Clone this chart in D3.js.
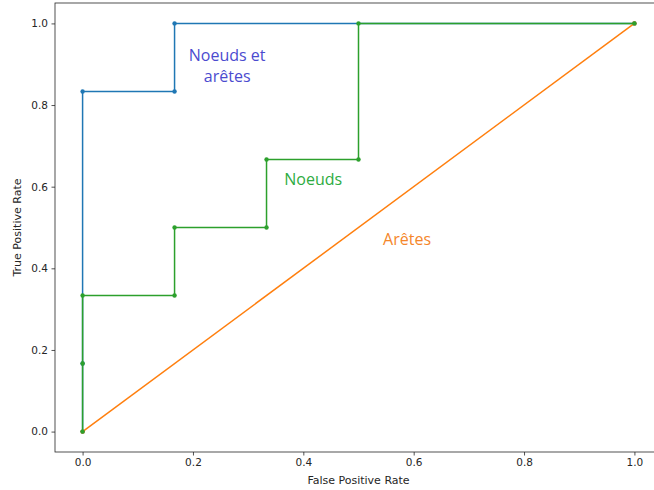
<!DOCTYPE html>
<html>
<head>
<meta charset="utf-8">
<script src="https://cdn.jsdelivr.net/npm/d3@7"></script>
<style>
  body { margin: 0; background: #fff; }
  text { font-family: "DejaVu Sans", sans-serif; }
</style>
</head>
<body>
<script>
"use strict"

// ROC curves (false positive rate, true positive rate)
const bothFpr  = [0, 0, 0, 1 / 6, 1 / 6, 1]
const bothTpr  = [0, 1 / 6, 5 / 6, 5 / 6, 1, 1]
const edgeFpr  = [0, 1]
const edgeTpr  = [0, 1]
const nodeFpr  = [0, 0, 0, 1 / 6, 1 / 6, 1 / 3, 1 / 3, 0.5, 0.5, 1]
const nodeTpr  = [0, 1 / 6, 1 / 3, 1 / 3, 0.5, 0.5, 2 / 3, 2 / 3, 1, 1]

const ticks = [0, 0.2, 0.4, 0.6, 0.8, 1.0]

const series = [
  { name : "both",  fpr : bothFpr, tpr : bothTpr, color : "#1f77b4" },
  { name : "edges", fpr : edgeFpr, tpr : edgeTpr, color : "#ff7f0e" },
  { name : "nodes", fpr : nodeFpr, tpr : nodeTpr, color : "#2ca02c" },
]

// annotations: text lines, data position, colour
const notes = [
  { lines : ["Noeuds et", "arêtes"], at : [0.262, 0.907], color : "#4b4bcf" },
  { lines : ["Noeuds"],             at : [0.418, 0.603], color : "#2eac3f" },
  { lines : ["Arêtes"],             at : [0.588, 0.457], color : "#f5862a" },
]

const area   = [654, 490]
const margin = { top : 3, right : -8, bottom : 38, left : 55 }
const width  = area[0] - margin.left - margin.right
const height = area[1] - margin.top - margin.bottom

const x = d3.scaleLinear().domain([-0.05, 1.05]).range([0, width])
const y = d3.scaleLinear().domain([-0.05, 1.05]).range([height, 0])

const translate = (a, b) => `translate(${a} ${b})`

const svg = d3.select("body").append("svg")
  .attr("width", area[0])
  .attr("height", area[1])

const g = svg.append("g").attr("transform", translate(margin.left, margin.top))

// axes
const fmt = d3.format(".1f")
const xAxis = g.append("g").attr("transform", translate(0, height))
  .call(d3.axisBottom(x).tickValues(ticks).tickFormat(fmt).tickSize(3.5).tickPadding(3.5))
const yAxis = g.append("g")
  .call(d3.axisLeft(y).tickValues(ticks).tickFormat(fmt).tickSize(3.5).tickPadding(3.5))

for (const ax of [xAxis, yAxis]) {
  ax.select(".domain").remove()
  ax.selectAll("text").attr("font-size", 10.5).attr("font-family", "DejaVu Sans").attr("fill", "#262626")
  ax.selectAll("line").attr("stroke", "#262626").attr("stroke-width", 0.8)
}

// frame
g.append("rect")
  .attr("width", width).attr("height", height)
  .attr("fill", "none").attr("stroke", "#262626").attr("stroke-width", 0.8)

// curves
const line = d3.line().x(d => x(d[0])).y(d => y(d[1]))
for (const s of series) {
  const pts = s.fpr.map((f, i) => [f, s.tpr[i]])
  g.append("path").datum(pts)
    .attr("d", line)
    .attr("fill", "none")
    .attr("stroke", s.color)
    .attr("stroke-width", 1.5)
  g.selectAll(null).data(pts).enter().append("circle")
    .attr("cx", d => x(d[0]))
    .attr("cy", d => y(d[1]))
    .attr("r", 2.2)
    .attr("fill", s.color)
}

// annotations
for (const n of notes) {
  const t = g.append("text")
    .attr("x", x(n.at[0]))
    .attr("y", y(n.at[1]))
    .attr("text-anchor", "middle")
    .attr("fill", n.color)
    .attr("font-size", 16)
    .style("font-family", "'Open Sans', sans-serif")
  n.lines.forEach((l, i) => t.append("tspan").attr("x", x(n.at[0])).attr("dy", i ? 21 : 0).text(l))
}

// axis labels
svg.append("text")
  .attr("x", margin.left + x(0.5)).attr("y", 484)
  .attr("text-anchor", "middle").attr("font-size", 11).attr("fill", "#262626")
  .text("False Positive Rate")
svg.append("text")
  .attr("transform", translate(21, margin.top + y(0.5)) + " rotate(-90)")
  .attr("text-anchor", "middle").attr("font-size", 11).attr("fill", "#262626")
  .text("True Positive Rate")
</script>
</body>
</html>
